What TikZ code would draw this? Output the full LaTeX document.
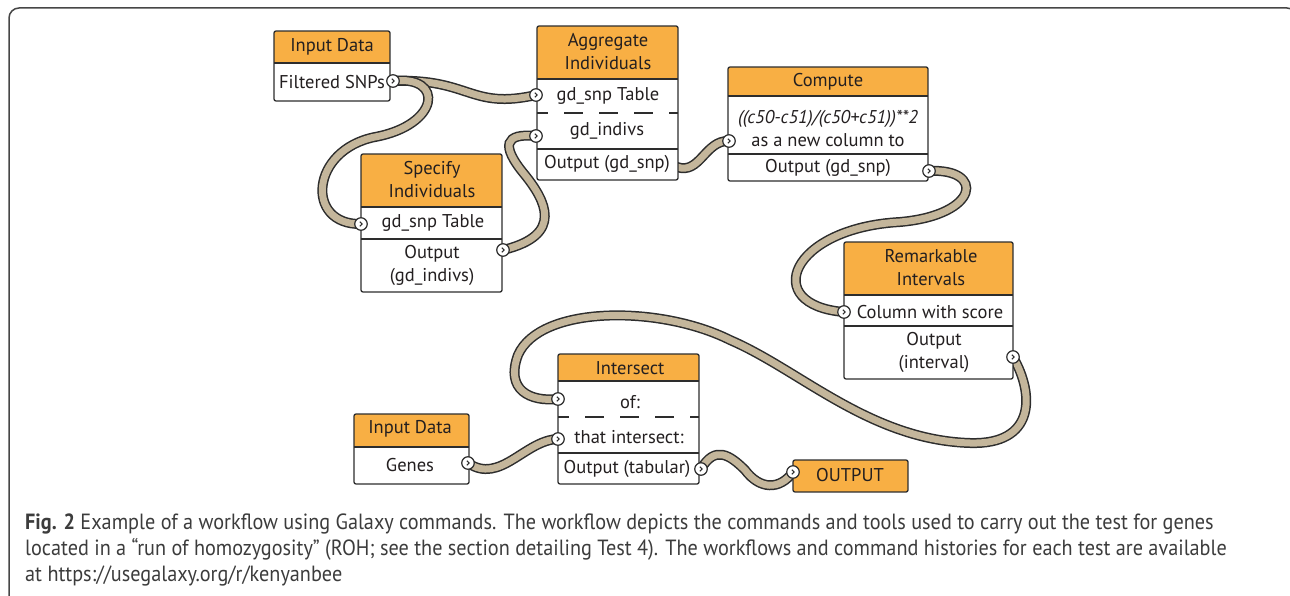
\documentclass[tikz,border=0pt]{standalone}
\usepackage{fontspec}
\setmainfont{PT Sans}
\newfontfamily\capfont[FakeStretch=0.92]{PT Sans}
\definecolor{ToolOrange}{RGB}{248,175,68}
\definecolor{WireTan}{RGB}{196,182,155}
\definecolor{EdgeGray}{RGB}{45,45,45}
\definecolor{TextDark}{RGB}{35,31,32}
\definecolor{FrameGray}{RGB}{70,70,70}
\definecolor{CaptionGray}{RGB}{60,60,60}
\usepackage{tikz}
\usetikzlibrary{positioning,calc,backgrounds}
\tikzset{>=latex}
\tikzset{
  toolhead/.style={fill=ToolOrange},
  toolframe/.style={draw=EdgeGray,line width=1.3pt,rounded corners=2pt},
  rowline/.style={draw=EdgeGray,line width=1.3pt},
  dashline/.style={draw=EdgeGray,line width=1.3pt,dash pattern=on 19pt off 16pt,dash phase=8pt},
  txt/.style={inner sep=0pt,align=center,text=TextDark,font=\fontsize{18.5}{23}\selectfont},
  captxt/.style={inner sep=0pt,text=CaptionGray,font=\capfont\fontsize{22}{26}\selectfont},
  wire/.style={draw=EdgeGray,line width=1.5pt,double=WireTan,double distance=7pt},
  port/.style={circle,draw=EdgeGray,fill=white,line width=1.2pt,minimum size=12.5pt,inner sep=0pt,
    path picture={\draw[EdgeGray,line width=1pt]
      ([xshift=-1.2pt,yshift=2.3pt]path picture bounding box.center) -- ++(2.4pt,-2.3pt) -- ++(-2.4pt,-2.3pt);}}
}
% left, top, right, header bottom, bottom
\newcommand{\toolbox}[5]{%
  \fill[white] (#1,#2) rectangle (#3,#5);
  \fill[toolhead] (#1,#2) rectangle (#3,#4);
  \draw[rowline] (#1,#4) -- (#3,#4);
  \draw[toolframe] (#1,#2) rectangle (#3,#5);
}

\begin{document}
\begin{tikzpicture}[>=latex,x=1pt,y=-1pt]
        \useasboundingbox (0,0) rectangle (1290,596);
        % outer frame
        \draw[FrameGray,line width=1.5pt,rounded corners=10pt] (9,8) rectangle (1297,606);

        % boxes
        \toolbox{274}{31}{390}{63}{101}
        \toolbox{361}{154}{502}{207}{292}
        \draw[rowline] (361,239) -- (502,239);
        \toolbox{537}{26}{678}{79}{180}
        \draw[dashline] (537,113) -- (678,113);
        \draw[rowline] (537,149) -- (678,149);
        \toolbox{728}{67}{928}{96}{181}
        \draw[rowline] (728,154) -- (928,154);
        \toolbox{844}{242}{1013}{295}{379}
        \draw[rowline] (844,326) -- (1013,326);
        \toolbox{558}{354}{699}{381}{484}
        \draw[dashline] (558,417) -- (699,417);
        \draw[rowline] (558,453) -- (699,453);
        \toolbox{354}{414}{469}{447}{484}
        \fill[toolhead] (793,460) rectangle (908,492);
        \draw[toolframe] (793,460) rectangle (908,492);

        % texts
        \node[txt] (SnpHead) at (332,47) {Input Data};
        \node[txt] (SnpRow) at (332,82) {Filtered SNPs};
        \node[txt] (SpecHead) at (432,180) {Specify\\Individuals};
        \node[txt] (SpecRow) at (433,223) {gd\_snp Table};
        \node[txt] (SpecOutTxt) at (432,265) {Output\\(gd\_indivs)};
        \node[txt] (AggrHead) at (608,52) {Aggregate\\Individuals};
        \node[txt] (AggrRowA) at (608,96) {gd\_snp Table};
        \node[txt] (AggrRowB) at (607,131) {gd\_indivs};
        \node[txt] (AggrOutTxt) at (607,164) {Output (gd\_snp)};
        \node[txt] (CompHead) at (828,82) {Compute};
        \node[txt] (CompRow) at (828,128) {\textit{((c50-c51)/(c50+c51))**2}\\as a new column to};
        \node[txt] (CompOutTxt) at (828,168) {Output (gd\_snp)};
        \node[txt] (RemHead) at (931,268) {Remarkable\\Intervals};
        \node[txt] (RemRow) at (930,312) {Column with score};
        \node[txt] (RemOutTxt) at (934,352) {Output\\(interval)};
        \node[txt] (InterHead) at (630,368) {Intersect};
        \node[txt] (InterRowA) at (630,402) {of:};
        \node[txt] (InterRowB) at (629,437) {that intersect:};
        \node[txt] (InterOutTxt) at (627,469) {Output (tabular)};
        \node[txt] (GenesHead) at (410,429) {Input Data};
        \node[txt] (GenesRow) at (410,465) {Genes};
        \node[txt] (OutTxt) at (850,475) {OUTPUT};

        % ports
        \node[port] (SnpOut) at (393,81) {};
        \node[port] (SpecIn) at (361,224) {};
        \node[port] (SpecOut) at (503,250) {};
        \node[port] (AggrIn1) at (536,95) {};
        \node[port] (AggrIn2) at (536,136) {};
        \coordinate (AggrOut) at (677,167);
        \node[port] (CompIn) at (729,141) {};
        \node[port] (CompOut) at (929,171) {};
        \node[port] (RemIn) at (844,312) {};
        \node[port] (RemOut) at (1013,357) {};
        \node[port] (InterIn1) at (558,399) {};
        \node[port] (InterIn2) at (558,439) {};
        \node[port] (InterOut) at (701,469) {};
        \node[port] (GenesOut) at (468,463) {};
        \node[port] (OutIn) at (793,472) {};

        \begin{scope}[on background layer]
            \draw[wire] (SnpOut.center) .. controls (470,78) and (470,110) .. (AggrIn1.center);
            \draw[wire] (SnpOut.center) .. controls (445,75) and (440,125) .. (375,137)
                .. controls (310,150) and (305,225) .. (SpecIn.center);
            \draw[wire] (SpecOut.center) .. controls (565,235) and (545,200) .. (525,175)
                .. controls (500,145) and (505,133) .. (AggrIn2.center);
            \draw[wire] (AggrOut) .. controls (700,175) and (705,140) .. (CompIn.center);
            \draw[wire] (CompOut.center) .. controls (985,168) and (980,215) .. (900,222)
                .. controls (790,228) and (760,305) .. (RemIn.center);
            \draw[wire] (RemOut.center) .. controls (1035,395) and (1035,445) .. (970,443)
                .. controls (870,440) and (800,370) .. (730,340)
                .. controls (660,305) and (540,305) .. (518,355)
                .. controls (505,390) and (530,402) .. (InterIn1.center);
            \draw[wire] (GenesOut.center) .. controls (500,485) and (525,440) .. (InterIn2.center);
            \draw[wire] (InterOut.center) .. controls (715,445) and (730,455) .. (745,470)
                .. controls (760,490) and (780,490) .. (OutIn.center);
        \end{scope}

        % caption
        \node[captxt,anchor=base west] (CapA) at (25,529) {\textbf{Fig. 2} Example of a workflow using Galaxy commands. The workflow depicts the commands and tools used to carry out the test for genes};
        \node[captxt,anchor=base west] (CapB) at (25,555) {located in a “run of homozygosity” (ROH; see the section detailing Test 4). The workflows and command histories for each test are available};
        \node[captxt,anchor=base west] (CapC) at (25,581) {at https://usegalaxy.org/r/kenyanbee};
    \end{tikzpicture}
\end{document}
